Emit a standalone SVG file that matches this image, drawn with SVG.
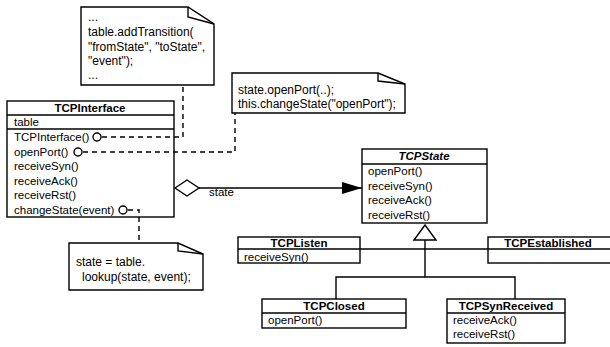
<svg xmlns="http://www.w3.org/2000/svg" width="610" height="347" viewBox="0 0 610 347">
<style>
text{font-family:"Liberation Sans",Arial,Helvetica,sans-serif;font-size:11.5px;fill:#000}
.t{font-weight:bold;text-anchor:middle}
.ti{font-weight:bold;font-style:italic;text-anchor:middle}
.n{font-size:12px}
.box{fill:#fff;stroke:#000;stroke-width:1.4}
.ln{fill:none;stroke:#000;stroke-width:1.4}
.dash{fill:none;stroke:#000;stroke-width:1.4;stroke-dasharray:5,4}
.circ{fill:#fff;stroke:#000;stroke-width:1.4}
</style>
<defs>
<marker id="arr" markerWidth="20" markerHeight="12" refX="20" refY="6" orient="auto" markerUnits="userSpaceOnUse">
<path d="M0,0 L20,6 L0,12 Z" fill="#000"/>
</marker>
</defs>
<g id="note1">
<path class="box" d="M81,7 H188 L214,24 V85 H81 Z"/>
<path class="ln" d="M188,7 V17 L214,24"/>
<text class="n" x="88" y="21">...</text>
<text class="n" x="88" y="36">table.addTransition(</text>
<text class="n" x="88" y="51">"fromState", "toState",</text>
<text class="n" x="88" y="65">"event");</text>
<text class="n" x="88" y="79">...</text>
</g>
<g id="note2">
<path class="box" d="M232,73 H378 L405,84 V113 H232 Z"/>
<path class="ln" d="M378,73 V81 L405,84"/>
<text class="n" x="238" y="94">state.openPort(..);</text>
<text class="n" x="238" y="108">this.changeState("openPort");</text>
</g>
<g id="note3">
<path class="box" d="M69,243 H178 L203,254 V290 H69 Z"/>
<path class="ln" d="M178,243 V251 L203,254"/>
<text class="n" x="76" y="266">state = table.</text>
<text class="n" x="82" y="281">lookup(state, event);</text>
</g>
<g id="TCPInterface">
<rect class="box" x="7" y="101" width="167" height="116"/>
<line class="ln" x1="7" y1="115" x2="174" y2="115"/>
<line class="ln" x1="7" y1="129" x2="174" y2="129"/>
<text class="t" x="90" y="112">TCPInterface</text>
<text x="14" y="126">table</text>
<text x="14" y="141">TCPInterface()</text>
<text x="14" y="156">openPort()</text>
<text x="14" y="170">receiveSyn()</text>
<text x="14" y="185">receiveAck()</text>
<text x="14" y="199">receiveRst()</text>
<text x="14" y="214">changeState(event)</text>
</g>
<g id="TCPState">
<rect class="box" x="362" y="149" width="125" height="74"/>
<line class="ln" x1="362" y1="164" x2="487" y2="164"/>
<text class="ti" x="424" y="160">TCPState</text>
<text x="368" y="175">openPort()</text>
<text x="368" y="190">receiveSyn()</text>
<text x="368" y="204">receiveAck()</text>
<text x="368" y="219">receiveRst()</text>
</g>
<g id="TCPListen">
<rect class="box" x="238" y="237" width="122" height="26"/>
<line class="ln" x1="238" y1="249" x2="360" y2="249"/>
<text class="t" x="299" y="247">TCPListen</text>
<text x="244" y="261">receiveSyn()</text>
</g>
<g id="TCPEstablished">
<rect class="box" x="488" y="237" width="130" height="26"/>
<line class="ln" x1="488" y1="249" x2="618" y2="249"/>
<text class="t" x="548" y="247">TCPEstablished</text>
</g>
<g id="TCPClosed">
<rect class="box" x="262" y="299" width="144" height="29"/>
<line class="ln" x1="262" y1="313" x2="406" y2="313"/>
<text class="t" x="334" y="310">TCPClosed</text>
<text x="268" y="324">openPort()</text>
</g>
<g id="TCPSynReceived">
<rect class="box" x="447" y="299" width="118" height="44"/>
<line class="ln" x1="447" y1="313" x2="565" y2="313"/>
<text class="t" x="506" y="310">TCPSynReceived</text>
<text x="453" y="324">receiveAck()</text>
<text x="453" y="338">receiveRst()</text>
</g>
<g id="connectors">
<path class="dash" d="M102,137 H183 V85"/>
<path class="dash" d="M83,152 H235 V113"/>
<path class="dash" d="M128,210 H139 V243"/>
<circle class="circ" cx="97" cy="137" r="4"/>
<circle class="circ" cx="78" cy="152" r="4"/>
<circle class="circ" cx="123" cy="210" r="4"/>
<line class="ln" x1="199" y1="188" x2="362" y2="188" marker-end="url(#arr)"/>
<polygon class="box" points="175,188 187,180 199,188 187,196"/>
<text x="209" y="196">state</text>
<path class="ln" d="M425,240 V277"/>
<path class="ln" d="M336,299 V277 H515 V299"/>
<path class="ln" d="M360,249 H488"/>
<polygon class="box" points="425,225 414,240 436,240"/>
</g>
</svg>
